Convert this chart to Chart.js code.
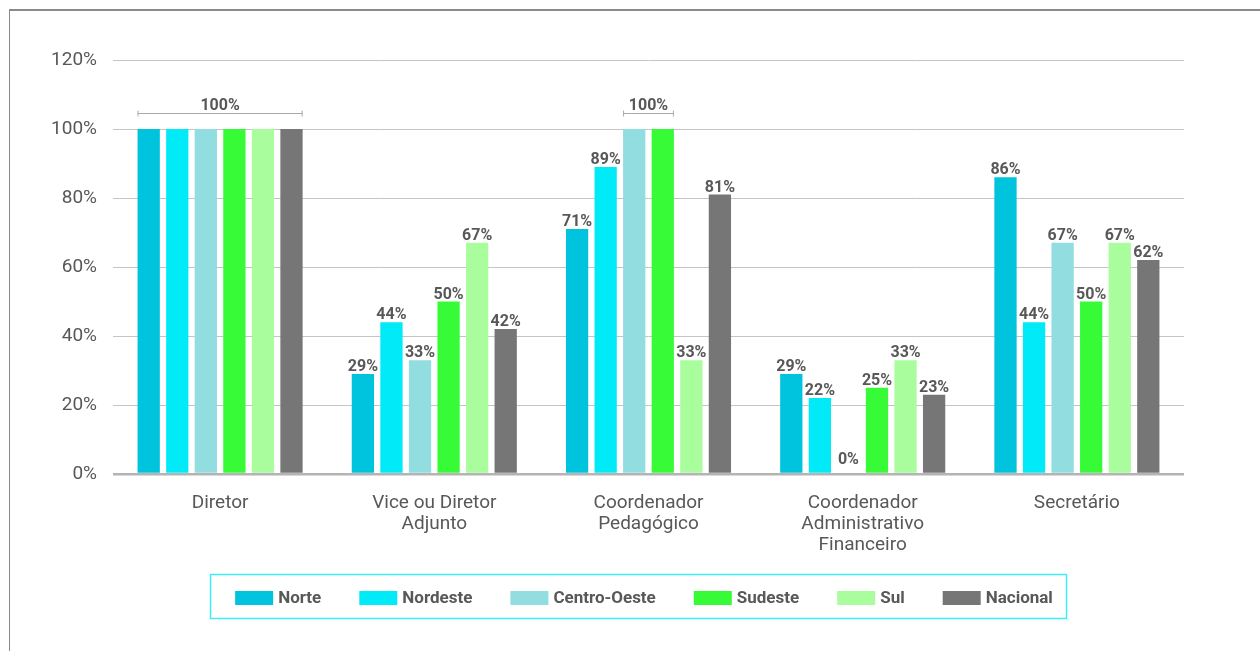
<!DOCTYPE html>
<html>
<head>
<meta charset="utf-8">
<script src="https://cdn.jsdelivr.net/npm/chart.js@4.4.1/dist/chart.umd.min.js"></script>
<style>
  html, body { margin: 0; padding: 0; background: #fff; overflow: hidden; }
  #wrap { position: relative; width: 1260px; height: 651px; }
  #frame { position: absolute; left: 9px; top: 9px; width: 1400px; height: 800px;
           border-top: 2px solid #8a8a8a; border-left: 1px solid #8a8a8a; box-sizing: border-box; }
  canvas { position: absolute; left: 0; top: 0; }
</style>
</head>
<body>
<div id="wrap">
  <div id="frame"></div>
  <canvas id="c" width="1260" height="651"></canvas>
</div>
<script>
const categories = [
  ["Diretor"],
  ["Vice ou Diretor", "Adjunto"],
  ["Coordenador", "Pedagógico"],
  ["Coordenador", "Administrativo", "Financeiro"],
  ["Secretário"]
];
const seriesNames = ["Norte", "Nordeste", "Centro-Oeste", "Sudeste", "Sul", "Nacional"];
const seriesColors = ["#00C3DD", "#00EBF7", "#92DDE0", "#38FB38", "#A9FD9C", "#767676"];
const norte      = [100, 29, 71, 29, 86];
const nordeste   = [100, 44, 89, 22, 44];
const centroOeste= [100, 33, 100, 0, 67];
const sudeste    = [100, 50, 100, 25, 50];
const sul        = [100, 67, 33, 33, 67];
const nacional   = [100, 42, 81, 23, 62];
const seriesValues = [norte, nordeste, centroOeste, sudeste, sul, nacional];
const yTicks = [0, 20, 40, 60, 80, 100, 120];

const FONT = "Roboto, 'Noto Sans', sans-serif";
const TXT = "#585858";

const labelPlugin = {
  id: 'barLabels',
  afterDatasetsDraw(chart) {
    const ctx = chart.ctx;
    ctx.save();
    ctx.font = "bold 16px " + FONT;
    ctx.fillStyle = TXT;
    ctx.textAlign = 'center';
    ctx.textBaseline = 'alphabetic';
    const nds = chart.data.datasets.length;
    for (let j = 0; j < chart.data.labels.length; j++) {
      let i = 0;
      while (i < nds) {
        const v = chart.data.datasets[i].data[j];
        if (v === 100) {
          let k = i;
          while (k + 1 < nds && chart.data.datasets[k + 1].data[j] === 100) k++;
          if (k > i) {
            const a = chart.getDatasetMeta(i).data[j];
            const b = chart.getDatasetMeta(k).data[j];
            const x1 = a.x - a.width / 2, x2 = b.x + b.width / 2;
            const yb = Math.round(a.y - 16) + 0.5;
            ctx.strokeStyle = '#aaaaaa';
            ctx.lineWidth = 1;
            ctx.beginPath();
            ctx.moveTo(x1, yb); ctx.lineTo(x2, yb);
            ctx.moveTo(x1 + 0.5, yb - 3); ctx.lineTo(x1 + 0.5, yb + 3);
            ctx.moveTo(x2 - 0.5, yb - 3); ctx.lineTo(x2 - 0.5, yb + 3);
            ctx.stroke();
            ctx.fillText("100%", (x1 + x2) / 2, yb - 3.5);
            i = k + 1;
            continue;
          }
        }
        const el = chart.getDatasetMeta(i).data[j];
        ctx.fillText(v + "%", el.x, el.y - (v === 0 ? 10 : 3));
        i++;
      }
    }
    ctx.restore();
  }
};

const legendPlugin = {
  id: 'boxLegend',
  afterDraw(chart) {
    const ctx = chart.ctx;
    ctx.save();
    ctx.strokeStyle = '#3EEFF6';
    ctx.lineWidth = 1.5;
    ctx.strokeRect(210.5, 574.5, 856, 44);
    ctx.font = "bold 17px " + FONT;
    ctx.textBaseline = 'middle';
    const boxW = 38, boxH = 14, gap = 5, spacing = 38;
    const ds = chart.data.datasets;
    const widths = ds.map(d => ctx.measureText(d.label).width);
    let total = widths.reduce((s, w) => s + boxW + gap + w, 0) + spacing * (ds.length - 1);
    let x = 644 - total / 2;
    const cy = 598;
    ds.forEach((d, idx) => {
      ctx.fillStyle = d.backgroundColor;
      ctx.fillRect(x, cy - boxH / 2, boxW, boxH);
      ctx.fillStyle = TXT;
      ctx.textAlign = 'left';
      ctx.fillText(d.label, x + boxW + gap, cy + 1);
      x += boxW + gap + widths[idx] + spacing;
    });
    ctx.restore();
  }
};

new Chart(document.getElementById('c'), {
  type: 'bar',
  data: {
    labels: categories,
    datasets: seriesNames.map((n, i) => ({
      label: n,
      data: seriesValues[i],
      backgroundColor: seriesColors[i],
      borderWidth: 0,
      barPercentage: 0.78,
      categoryPercentage: 0.8
    }))
  },
  options: {
    responsive: false,
    animation: false,
    devicePixelRatio: 1,
    layout: { padding: { top: 60, right: 76, left: 0, bottom: 0 } },
    plugins: { legend: { display: false }, tooltip: { enabled: false } },
    scales: {
      x: {
        afterFit(s) { s.height = 177; },
        grid: { display: false },
        border: { display: false },
        ticks: {
          font: { family: FONT, size: 19, lineHeight: 1.1 },
          color: TXT, padding: 11, maxRotation: 0, autoSkip: false
        }
      },
      y: {
        afterFit(s) { s.width = 113; },
        min: 0, max: 120,
        afterBuildTicks(s) { s.ticks = yTicks.map(v => ({ value: v })); },
        border: { display: false },
        grid: {
          drawTicks: false,
          color: c => c.tick && c.tick.value === 0 ? '#b4b4b4' : '#c4c4c4',
          lineWidth: c => c.tick && c.tick.value === 0 ? 2.5 : 1
        },
        ticks: {
          font: { family: FONT, size: 19 },
          color: TXT, padding: 16,
          callback: v => v + '%'
        }
      }
    }
  },
  plugins: [labelPlugin, legendPlugin]
});
</script>
</body>
</html>
